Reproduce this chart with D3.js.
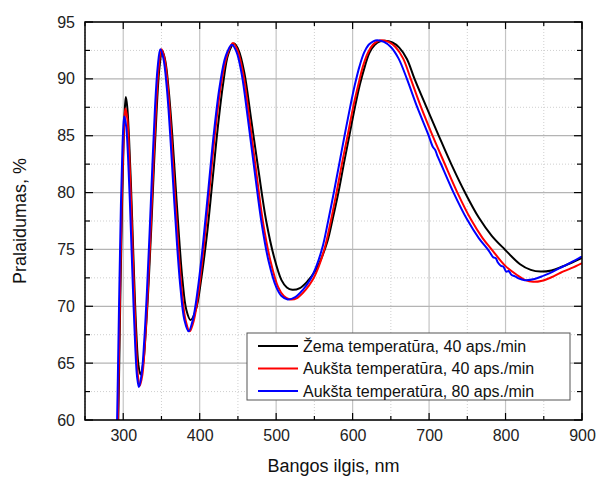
<!DOCTYPE html>
<html>
<head>
<meta charset="utf-8">
<script src="https://cdn.jsdelivr.net/npm/d3@7"></script>
<style>
  body { margin: 0; background: #fff; }
  svg { font-family: "Liberation Sans", Arial, sans-serif; }
</style>
</head>
<body>
<div id="chart"></div>
<script>
// wavelength (nm), transmittance (%)
const zemaT40 = [
  [290,50],[293.5,60],[296,70],[298.5,79],[300.7,85],[302.3,87.6],[303.5,88.4],
  [305.3,87.5],[307.6,84.8],[310,80.9],[312.4,76.2],[314.8,71.5],[317.2,67.6],[319.8,64.9],[322.5,64.0],
  [326.1,65.0],[329.6,67.9],[333.2,72.0],[336.75,77.0],[340.3,82.5],[343.9,87.5],[347.4,91.0],[351,92.5],
  [355,91.6],[359.5,89.0],[364,85.2],[368.5,80.6],[373,76.1],[377.5,72.3],[382.5,69.7],[388,68.8],
  [395,69.7],[402,72.4],[409.5,76.3],[416.5,80.9],[423.5,85.6],[430.5,89.5],[437.5,92.2],[445,93.1],
  [451,92.5],[458.5,90.5],[467,86.6],[477,81.9],[487,77.5],[497,74.4],[507,72.3],[514,71.65],[521,71.45],
  [531,71.6],[541,72.2],[551,73.1],[559,74.2],[567,75.7],[574,77.7],[582,80.2],[589,82.7],[596,85.1],
  [603,87.5],[609.5,89.5],[616,91.1],[622,92.3],[629,93.0],[636,93.3],[642,93.35],
  [652,93.2],[661,92.75],[671,91.75],[681,90.0],[696,87.6],[712,85.1],[729,82.5],[747,80.0],[765,77.8],
  [782,76.2],[799,75.0],[819,73.7],[833,73.2],[846,73.05],[860,73.15],[873,73.45],[887,73.85],[900,74.25]
];
const aukstaT40 = [
  [290,50],[293,60],[295.5,70],[298,79],[300.3,84.6],[302,86.9],[303,87.4],
  [305.3,86.5],[307.6,83.8],[309.9,79.9],[312.25,75.2],[314.6,70.5],[316.9,66.6],[319.2,63.9],[321.5,63.0],
  [325.1,64.0],[328.6,67.0],[332.2,71.3],[335.75,76.5],[339.3,82.2],[342.9,87.4],[346.4,91.0],[350,92.6],
  [354,91.8],[358.5,89.2],[363,85.0],[367.5,80.0],[372,75.3],[376.5,71.5],[381.5,68.8],[387,67.8],
  [392.5,68.8],[399,71.5],[406,75.6],[413,80.4],[420,85.2],[427.5,89.3],[435.5,92.0],[443.5,93.15],
  [449.5,92.5],[457,90.4],[465,86.5],[474,81.8],[483,77.3],[492.5,74.0],[502.5,71.7],[510,70.9],[518,70.6],
  [528,70.75],[538,71.4],[548,72.35],[556,73.55],[564,75.25],[571.5,77.5],[579.5,80.2],[586.5,82.7],
  [594,85.2],[601,87.6],[607.5,89.5],[613.5,91.1],[620,92.3],[626.5,93.0],[632.5,93.3],[638,93.4],
  [647,93.25],[656,92.8],[666,91.8],[676,90.0],[689,87.6],[704,85.1],[720,82.6],[737,80.0],[755,77.6],
  [770,76.0],[783,74.9],[799,73.6],[815,72.75],[826,72.3],[836,72.15],[848,72.25],[860,72.55],
  [872,72.95],[886,73.35],[900,73.8]
];
const aukstaT80 = [
  [289,50],[292,60],[294.5,70],[297,79],[299,84],[300.5,86.2],[301.5,86.7],
  [303.9,85.8],[306.25,83.2],[308.6,79.35],[311,74.8],[313.4,70.25],[315.75,66.4],[318.1,63.8],[320.5,62.9],
  [324,64.0],[327.5,67.0],[331,71.3],[334.5,76.5],[338,82.2],[341.5,87.4],[345,91.0],[348.5,92.6],
  [352.5,91.8],[357,89.2],[361.5,85.0],[366,80.0],[370.5,75.3],[375,71.5],[380,68.8],[385.5,67.8],
  [391,68.8],[397.5,71.5],[404.5,75.6],[411.5,80.4],[418.5,85.2],[426,89.3],[434,92.0],[442,93.0],
  [448,92.4],[455,90.4],[463,86.5],[472,81.8],[481,77.3],[490,74.0],[500,71.7],[507,70.9],[515,70.6],
  [525,70.8],[535,71.45],[545,72.4],[553,73.6],[561,75.3],[568,77.5],[576,80.2],[583,82.7],[590,85.2],
  [597,87.6],[603,89.5],[609,91.1],[615,92.3],[621,93.0],[627,93.3],[632,93.4],
  [641,93.25],[650,92.8],[660,91.8],[671,90.0],[684,87.6],[699,85.1],[705,84.0],[708,83.75],[711,83.2],
  [715,82.6],[732,80.0],[750,77.6],[765,76.0],[778,74.9],[784,74.3],[787,74.25],[790,73.85],[794,73.55],
  [797,73.5],[801,73.05],[804,73.1],[808,72.75],[812,72.65],[817,72.45],[825,72.3],[838,72.4],[850,72.7],
  [862,73.05],[875,73.5],[888,73.95],[900,74.4]
];

const seriesNames = ["Žema temperatūra, 40 aps./min", "Aukšta temperatūra, 40 aps./min", "Aukšta temperatūra, 80 aps./min"];
const seriesColors = ["#000000", "#ff0000", "#0000ff"];
const xTicks = [300, 400, 500, 600, 700, 800, 900];
const yTicks = [60, 65, 70, 75, 80, 85, 90, 95];

const width = 597, height = 480;
const margin = {left: 85, right: 15, top: 22, bottom: 60};
const iw = width - margin.left - margin.right;
const ih = height - margin.top - margin.bottom;

const svg = d3.select("#chart").append("svg")
    .attr("width", width)
    .attr("height", height);

const x = d3.scaleLinear().domain([250, 900]).range([margin.left, margin.left + iw]);
const y = d3.scaleLinear().domain([60, 95]).range([margin.top + ih, margin.top]);

const xMinor = d3.range(250, 901, 50).filter(v => !xTicks.includes(v));
const yMinor = d3.range(62.5, 95, 5);

// grid
const grid = svg.append("g");
grid.selectAll(".xmin").data(xMinor).join("line")
    .attr("x1", d => x(d)).attr("x2", d => x(d))
    .attr("y1", y(60)).attr("y2", y(95))
    .attr("stroke", "#cfcfcf").attr("stroke-dasharray", "1,2");
grid.selectAll(".ymin").data(yMinor).join("line")
    .attr("y1", d => y(d)).attr("y2", d => y(d))
    .attr("x1", x(250)).attr("x2", x(900))
    .attr("stroke", "#cfcfcf").attr("stroke-dasharray", "1,2");
grid.selectAll(".xmaj").data(xTicks).join("line")
    .attr("x1", d => x(d)).attr("x2", d => x(d))
    .attr("y1", y(60)).attr("y2", y(95))
    .attr("stroke", "#c4c4c4").attr("stroke-width", 1.2);
grid.selectAll(".ymaj").data(yTicks).join("line")
    .attr("y1", d => y(d)).attr("y2", d => y(d))
    .attr("x1", x(250)).attr("x2", x(900))
    .attr("stroke", "#b4b4b4").attr("stroke-width", 1.2);

// curves
svg.append("clipPath").attr("id", "clip").append("rect")
    .attr("x", x(250)).attr("y", y(95))
    .attr("width", iw).attr("height", ih);

const line = d3.line()
    .x(d => x(d[0])).y(d => y(d[1]))
    .curve(d3.curveCatmullRom.alpha(0.5));

const plot = svg.append("g").attr("clip-path", "url(#clip)");
[zemaT40, aukstaT40, aukstaT80].forEach((s, i) => {
    plot.append("path")
        .datum(s)
        .attr("fill", "none")
        .attr("stroke", seriesColors[i])
        .attr("stroke-width", 2)
        .attr("stroke-linejoin", "round")
        .attr("d", line);
});

// axes, ticks inward on all four sides
const fmt = d3.format("d");
const bottom = svg.append("g").attr("transform", `translate(0,${y(60)})`)
    .call(d3.axisBottom(x).tickValues(xTicks).tickSize(0).tickPadding(10).tickFormat(fmt));
const left = svg.append("g").attr("transform", `translate(${x(250)},0)`)
    .call(d3.axisLeft(y).tickValues(yTicks).tickSize(0).tickPadding(10).tickFormat(fmt));
[bottom, left].forEach(g => {
    g.select(".domain").remove();
    g.selectAll("text").attr("font-size", 16).attr("fill", "#222")
        .attr("font-family", "Liberation Sans, Arial, sans-serif");
});

const ticks = svg.append("g").attr("stroke", "#000").attr("stroke-width", 1.2);
function tickSet(vals, len, horizontal) {
    vals.forEach(v => {
        if (horizontal) {
            ticks.append("line").attr("x1", x(v)).attr("x2", x(v)).attr("y1", y(60)).attr("y2", y(60) - len);
            ticks.append("line").attr("x1", x(v)).attr("x2", x(v)).attr("y1", y(95)).attr("y2", y(95) + len);
        } else {
            ticks.append("line").attr("y1", y(v)).attr("y2", y(v)).attr("x1", x(250)).attr("x2", x(250) + len);
            ticks.append("line").attr("y1", y(v)).attr("y2", y(v)).attr("x1", x(900)).attr("x2", x(900) - len);
        }
    });
}
tickSet(xTicks, 7, true);
tickSet(xMinor, 4, true);
tickSet(yTicks, 8, false);
tickSet(yMinor, 5, false);

svg.append("rect")
    .attr("x", x(250)).attr("y", y(95))
    .attr("width", iw).attr("height", ih)
    .attr("fill", "none").attr("stroke", "#000").attr("stroke-width", 1.5);

// axis titles
svg.append("text")
    .attr("x", x(575)).attr("y", 472)
    .attr("text-anchor", "middle")
    .attr("font-size", 18).attr("fill", "#111")
    .text("Bangos ilgis, nm");
svg.append("text")
    .attr("transform", `translate(26,${y(77.5)}) rotate(-90)`)
    .attr("text-anchor", "middle")
    .attr("font-size", 18).attr("fill", "#111")
    .text("Pralaidumas, %");

// legend
const lg = svg.append("g").attr("transform", "translate(247,333)");
lg.append("rect").attr("width", 323).attr("height", 67)
    .attr("fill", "#fff").attr("stroke", "#555").attr("stroke-width", 1);
seriesNames.forEach((name, i) => {
    const ry = 13 + i * 22.5;
    lg.append("line").attr("x1", 11).attr("x2", 51).attr("y1", ry).attr("y2", ry)
        .attr("stroke", seriesColors[i]).attr("stroke-width", 2);
    lg.append("text").attr("x", 56).attr("y", ry).attr("dy", "0.35em")
        .attr("font-size", 16).attr("fill", "#111")
        .text(name);
});
</script>
</body>
</html>
